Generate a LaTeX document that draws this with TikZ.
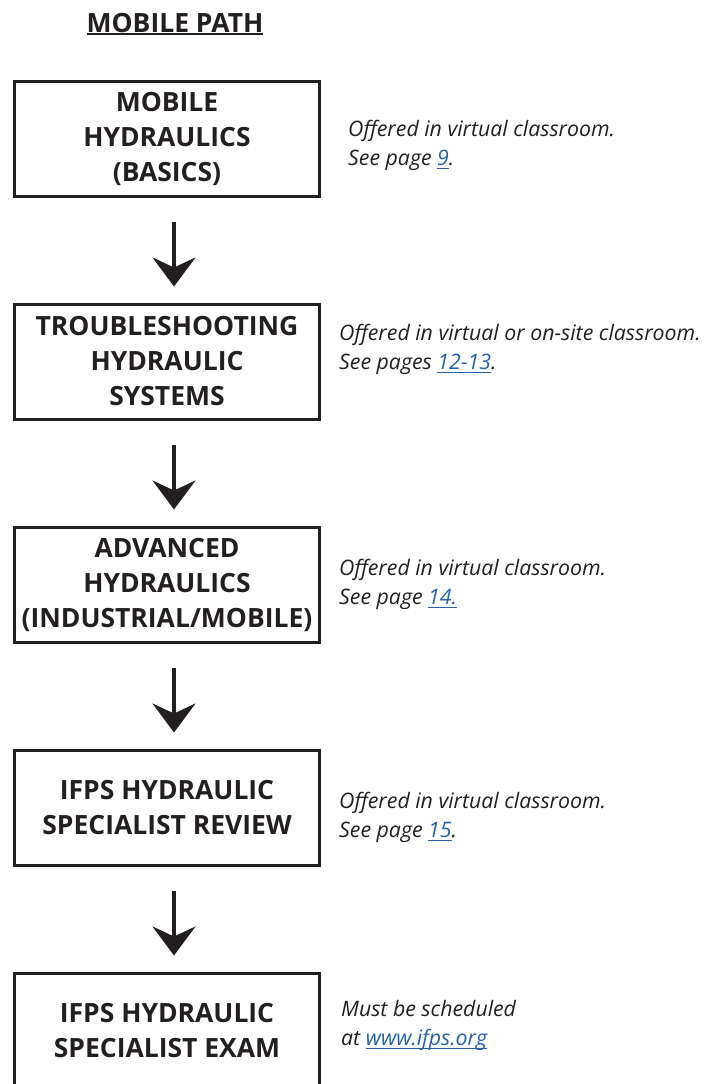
\documentclass[tikz,border=0pt]{standalone}
\usepackage{fontspec}
\setmainfont{Open Sans}
\usetikzlibrary{arrows.meta, positioning}
\definecolor{inkblack}{RGB}{35,31,32}
\definecolor{linkblue}{RGB}{35,98,168}
\newsavebox{\ulinebox}
\newcommand{\ulined}[3]{\sbox{\ulinebox}{#3}\rlap{\usebox{\ulinebox}}\rule[-#2]{\wd\ulinebox}{#1}}
\newcommand{\pagelink}[1]{\textcolor{linkblue}{\ulined{1.2pt}{3.5pt}{#1}}}

\begin{document}
\begin{tikzpicture}[x=1pt, y=-1pt]
    \tikzstyle{block} = [rectangle, draw=inkblack, line width=3pt, minimum width=305pt, minimum height=115pt, inner sep=1pt, align=center, text=inkblack, font=\fontsize{26.5}{35}\selectfont\bfseries]
    \tikzstyle{note} = [inner sep=0pt, align=left, text=inkblack, font=\fontsize{21.3}{29.5}\selectfont\itshape]
    \tikzstyle{line} = [draw=inkblack, line width=3.5pt, -{Stealth[length=29pt, width=43pt, inset=10pt]}, shorten <=24pt, shorten >=16pt]

    \clip (0,0) rectangle (708,1084);

    % title
    \node[text=inkblack, font=\fontsize{26.5}{30}\selectfont\bfseries] (title) at (175,24) {\ulined{2pt}{3pt}{MOBILE PATH}};

    % course blocks
    \node[block] (basics) at (167,138.5) {MOBILE\\HYDRAULICS\\(BASICS)};
    \node[block, below=105pt of basics] (trouble) {TROUBLESHOOTING\\HYDRAULIC\\SYSTEMS};
    \node[block, below=105pt of trouble] (advanced) {ADVANCED\\HYDRAULICS\\(INDUSTRIAL/MOBILE)};
    \node[block, below=105pt of advanced] (review) {IFPS HYDRAULIC\\SPECIALIST REVIEW};
    \node[block, below=105pt of review] (exam) {IFPS HYDRAULIC\\SPECIALIST EXAM};

    % notes beside the blocks
    \node[note, right=27pt of basics, yshift=-7pt] (basicsnote) {Offered in virtual classroom.\\See page \pagelink{9}.};
    \node[note, right=18pt of trouble, yshift=12pt] (troublenote) {Offered in virtual or on-site classroom.\\See pages \pagelink{12-13}.};
    \node[note, right=18pt of advanced] (advancednote) {Offered in virtual classroom.\\See page \pagelink{14.}};
    \node[note, right=18pt of review, yshift=-10pt] (reviewnote) {Offered in virtual classroom.\\See page \pagelink{15}.};
    \node[note, right=20pt of exam, yshift=5pt] (examnote) {Must be scheduled\\at \pagelink{www.ifps.org}};

    % arrows
    \path [line] ([xshift=7pt]basics.south) -- ([xshift=7pt]trouble.north);
    \path [line] ([xshift=7pt]trouble.south) -- ([xshift=7pt]advanced.north);
    \path [line] ([xshift=7pt]advanced.south) -- ([xshift=7pt]review.north);
    \path [line] ([xshift=7pt]review.south) -- ([xshift=7pt]exam.north);
\end{tikzpicture}
\end{document}
